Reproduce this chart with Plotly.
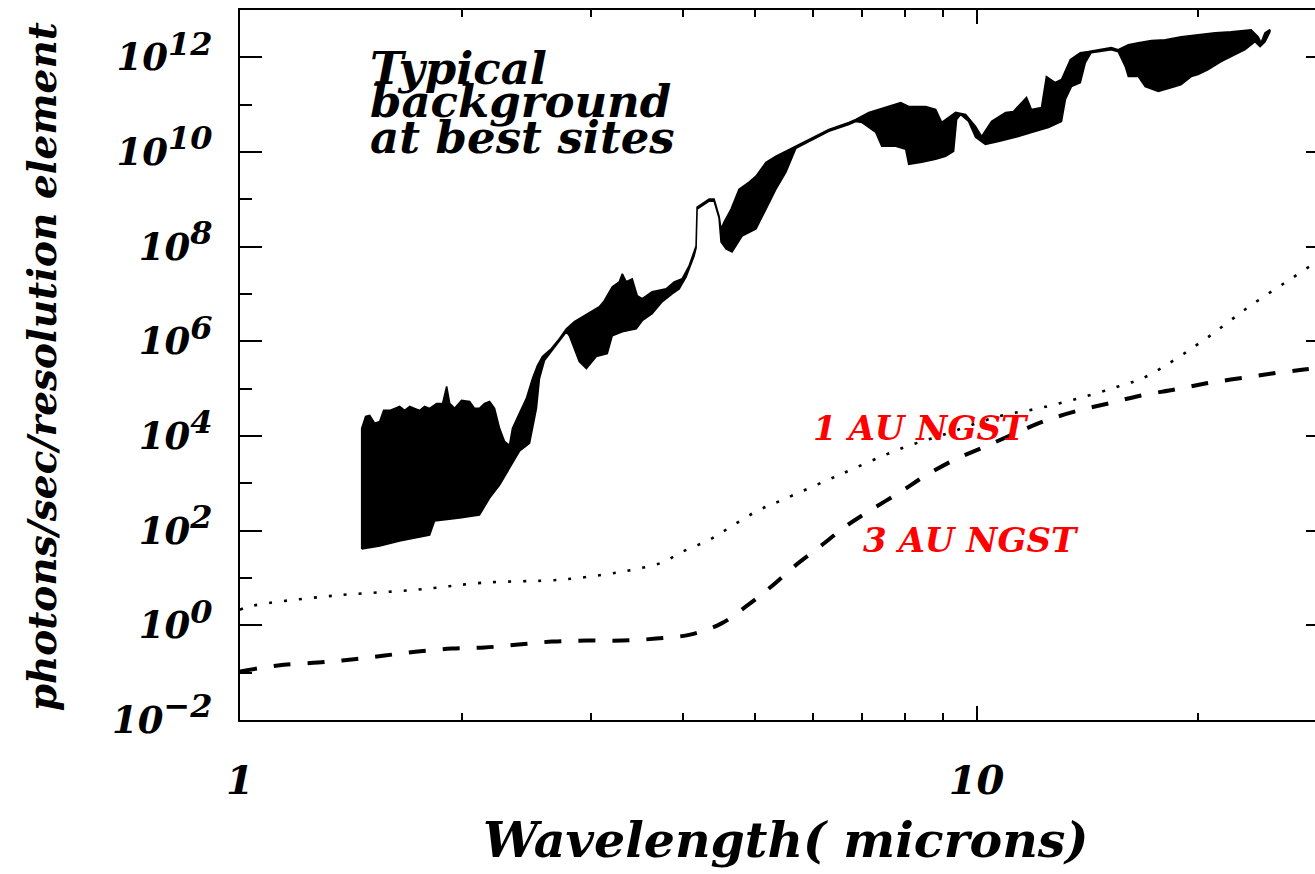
import numpy as np
import plotly.graph_objects as go

# ---------------- data ----------------
# Typical ground-based background: upper envelope of the spectrum
bg_upper_wl = [1.463, 1.463, 1.481, 1.500, 1.524, 1.548, 1.567, 1.597, 1.622, 1.647, 1.673, 1.700,
               1.726, 1.754, 1.781, 1.809, 1.849, 1.884, 1.908, 1.926, 1.956, 1.999, 2.050, 2.082,
               2.114, 2.148, 2.182, 2.216, 2.251, 2.286, 2.322, 2.344, 2.395, 2.448, 2.495, 2.534,
               2.574, 2.647, 2.714, 2.774, 2.844, 2.888, 3.008, 3.075, 3.123, 3.202, 3.273, 3.304,
               3.345, 3.408, 3.462, 3.516, 3.627, 3.789, 3.885, 3.983, 4.071, 4.161, 4.174, 4.266,
               4.334, 4.402, 4.471, 4.499, 4.541, 4.642, 4.759, 4.910, 5.018, 5.097, 5.177, 5.341,
               5.510, 5.685, 5.920, 6.302, 6.708, 6.855, 7.140, 7.600, 7.889, 8.089, 8.529, 8.799,
               8.967, 9.164, 9.366, 9.663, 9.969, 10.16, 10.48, 10.95, 11.22, 11.69, 11.87, 12.25,
               12.44, 12.79, 13.04, 13.41, 13.83, 14.19, 14.63, 15.24, 15.57, 16.07, 16.58, 17.27,
               18.04, 18.96, 19.99, 21.08, 22.16, 23.59, 24.11, 24.33, 24.64, 25.02]
bg_upper_log = [1.615, 4.162, 4.415, 4.436, 4.267, 4.309, 4.541, 4.541, 4.583, 4.625, 4.541, 4.625,
                4.583, 4.541, 4.625, 4.583, 4.688, 4.688, 5.046, 4.688, 4.583, 4.752, 4.731, 4.583,
                4.583, 4.688, 4.731, 4.583, 4.162, 3.888, 3.804, 4.162, 4.478, 4.794, 5.215, 5.488,
                5.678, 5.846, 6.057, 6.267, 6.415, 6.478, 6.646, 6.731, 6.857, 7.152, 7.257, 7.425,
                7.257, 7.320, 6.962, 6.899, 7.046, 7.109, 7.257, 7.320, 7.594, 8.015, 8.836, 8.941,
                9.004, 9.004, 8.646, 8.373, 8.520, 8.794, 9.215, 9.362, 9.488, 9.636, 9.783, 9.909,
                10.015, 10.120, 10.267, 10.478, 10.625, 10.688, 10.836, 10.962, 11.046, 10.962, 10.962, 10.899,
                10.625, 10.731, 10.836, 10.794, 10.541, 10.331, 10.646, 10.836, 10.857, 11.152, 10.899, 10.941,
                11.594, 11.467, 11.531, 11.952, 12.099, 12.120, 12.162, 12.204, 12.162, 12.267, 12.309, 12.352,
                12.373, 12.436, 12.478, 12.520, 12.541, 12.583, 12.436, 12.309, 12.520, 12.583]

# lower envelope of the spectrum
bg_lower_wl = [1.463, 1.548, 1.647, 1.809, 1.837, 1.987, 2.114, 2.182, 2.251, 2.322, 2.395, 2.472,
               2.526, 2.550, 2.590, 2.647, 2.714, 2.774, 2.800, 2.888, 2.953, 3.046, 3.152, 3.202,
               3.304, 3.451, 3.516, 3.627, 3.742, 3.861, 3.947, 4.033, 4.135, 4.161, 4.174, 4.334,
               4.402, 4.471, 4.499, 4.570, 4.656, 4.804, 5.018, 5.177, 5.341, 5.510, 5.685, 5.920,
               6.302, 6.708, 6.855, 6.985, 7.297, 7.435, 7.766, 8.013, 8.089, 8.424, 8.799, 9.079,
               9.307, 9.395, 9.513, 9.754, 9.969, 10.28, 10.71, 11.29, 11.87, 12.52, 13.04, 13.20,
               13.45, 13.83, 14.05, 14.31, 14.63, 15.24, 15.57, 15.92, 16.07, 16.58, 16.94, 17.65,
               18.04, 18.61, 18.96, 19.56, 19.99, 20.63, 21.48, 22.16, 23.15, 23.88, 24.26, 24.64, 25.02]
bg_lower_log = [1.615, 1.678, 1.783, 1.909, 2.204, 2.267, 2.331, 2.688, 2.962, 3.320, 3.678, 3.846,
                4.583, 5.215, 5.594, 5.804, 6.015, 6.204, 6.120, 5.573, 5.425, 5.678, 5.741, 6.120,
                6.204, 6.267, 6.436, 6.583, 6.836, 7.004, 7.109, 7.362, 7.804, 7.973, 8.794, 8.962,
                8.962, 8.604, 8.099, 7.952, 7.888, 8.225, 8.373, 8.794, 9.215, 9.573, 10.078, 10.225,
                10.436, 10.583, 10.646, 10.625, 10.415, 10.120, 10.120, 10.057, 9.741, 9.783, 9.846, 9.909,
                10.015, 10.688, 10.794, 10.646, 10.310, 10.162, 10.225, 10.310, 10.415, 10.520, 10.646, 11.109,
                11.383, 11.467, 11.888, 12.099, 12.120, 12.162, 12.120, 11.804, 11.594, 11.594, 11.383, 11.278,
                11.320, 11.383, 11.425, 11.594, 11.636, 11.741, 11.909, 12.015, 12.162, 12.331, 12.225, 12.331, 12.541]

# 1 AU NGST background (dotted)
ngst1_wl = [1.0, 1.041, 1.337, 1.738, 2.135, 2.714, 3.104, 3.408, 3.731, 4.009, 4.334, 4.656,
            5.034, 5.442, 6.501, 7.914, 8.967, 10.71, 12.13, 13.75, 15.57, 17.00, 20.30, 21.82,
            23.22, 24.87, 26.72, 28.44, 30.0]
ngst1_log = [0.331, 0.415, 0.625, 0.752, 0.899, 0.962, 1.067, 1.173, 1.320, 1.573, 1.804, 2.099,
             2.415, 2.646, 3.173, 3.741, 4.015, 4.415, 4.583, 4.794, 5.046, 5.257, 6.015, 6.373,
             6.688, 7.004, 7.320, 7.594, 7.73]

# 3 AU NGST background (dashed)
ngst3_wl = [1.0, 1.126, 1.276, 1.418, 1.572, 1.743, 1.938, 2.148, 2.388, 2.655, 2.962, 3.304,
            3.673, 4.084, 4.499, 4.879, 5.259, 5.668, 6.146, 6.625, 7.185, 7.914, 8.502, 9.307,
            10.22, 11.29, 12.33, 13.62, 15.10, 16.73, 18.61, 20.43, 22.65, 25.18, 27.82, 30.0]
ngst3_log = [-0.975, -0.848, -0.785, -0.722, -0.638, -0.554, -0.491, -0.469, -0.406, -0.343, -0.322, -0.322,
             -0.280, -0.196, 0.036, 0.415, 0.815, 1.257, 1.678, 2.078, 2.436, 2.836, 3.152, 3.488,
             3.762, 4.057, 4.309, 4.520, 4.688, 4.857, 4.983, 5.109, 5.215, 5.320, 5.404, 5.46]

x_tick_vals = [1, 10]
x_tick_text = ["1", "10"]
x_minor_vals = [2, 3, 4, 5, 6, 7, 8, 9, 20, 30]
y_tick_exps = [-2, 0, 2, 4, 6, 8, 10, 12]
y_tick_sup = ["\u22122", "0", "2", "4", "6", "8", "10", "12"]
y_minor_exps = [-1, 1, 3, 5, 7, 9, 11, 13]

# ---------------- figure ----------------
FONT = "DejaVu Serif"

fig = go.Figure()

poly_x = list(bg_upper_wl) + list(bg_lower_wl[::-1])
poly_y = list(10 ** np.array(bg_upper_log)) + list(10 ** np.array(bg_lower_log[::-1]))
fig.add_trace(go.Scatter(x=poly_x, y=poly_y, mode="lines", fill="toself",
                         fillcolor="black", line=dict(color="black", width=1.6),
                         hoverinfo="skip", showlegend=False))

fig.add_trace(go.Scatter(x=ngst1_wl, y=10 ** np.array(ngst1_log), mode="lines",
                         line=dict(color="black", width=2.6, dash="3px,12px", shape="spline"),
                         showlegend=False))
fig.add_trace(go.Scatter(x=ngst3_wl, y=10 ** np.array(ngst3_log), mode="lines",
                         line=dict(color="black", width=4, dash="17px,17px", shape="spline"),
                         showlegend=False))

L, R, T, B = 240, 0, 10, 154
W, H = 1330, 874          # right axis lies just beyond the visible 1315 px, as in the reference
pw, ph = W - L - R, H - T - B


def px(xp):
    return (xp - L) / pw


def py(yp):
    return (H - B - yp) / ph


y_tick_text = ["10<sup><span style='font-size:32px'>%s</span></sup>" % s for s in y_tick_sup]

fig.update_layout(
    width=W, height=H,
    margin=dict(l=L, r=R, t=T, b=B, pad=0),
    paper_bgcolor="white", plot_bgcolor="white",
    showlegend=False,
    xaxis=dict(type="log", range=[0, np.log10(30)],
               showline=True, linecolor="black", linewidth=2, mirror="allticks",
               ticks="inside", ticklen=14, tickwidth=2, tickcolor="black",
               tickvals=x_tick_vals, ticktext=x_tick_text,
               minor=dict(tickvals=x_minor_vals, ticks="inside", ticklen=7,
                          tickwidth=2, tickcolor="black", showgrid=False),
               showgrid=False, zeroline=False, ticklabelstandoff=24,
               tickfont=dict(family=FONT, size=40, color="black", weight="bold", style="italic")),
    yaxis=dict(type="log", range=[-2, 13],
               showline=True, linecolor="black", linewidth=2, mirror="allticks",
               ticks="inside", ticklen=22, tickwidth=2, tickcolor="black",
               tickvals=[10.0 ** e for e in y_tick_exps], ticktext=y_tick_text,
               minor=dict(tickvals=[10.0 ** e for e in y_minor_exps], ticks="inside",
                          ticklen=12, tickwidth=2, tickcolor="black", showgrid=False),
               showgrid=False, zeroline=False, ticklabelstandoff=18,
               tickfont=dict(family=FONT, size=37, color="black", weight="bold", style="italic")),
)

annotations = [
    dict(text="Wavelength( microns)", x=px(787), y=py(840), size=49, angle=0, color="black"),
    dict(text="photons/sec/resolution element", x=px(42), y=py(367), size=39, angle=-90, color="black"),
    dict(text="1 AU NGST", x=px(922), y=py(428), size=34, angle=0, color="red"),
    dict(text="3 AU NGST", x=px(972), y=py(540), size=34, angle=0, color="red"),
]
for a in annotations:
    fig.add_annotation(text=a["text"], xref="paper", yref="paper", x=a["x"], y=a["y"],
                       xanchor="center", yanchor="middle", showarrow=False, textangle=a["angle"],
                       font=dict(family=FONT, size=a["size"], color=a["color"],
                                 weight="bold", style="italic"))

for txt, yc in [("Typical", 68), ("background", 101), ("at best sites", 137)]:
    fig.add_annotation(text=txt, xref="paper", yref="paper", x=px(368), y=py(yc),
                       xanchor="left", yanchor="middle", showarrow=False,
                       font=dict(family=FONT, size=45, color="black", weight="bold", style="italic"))

fig.write_html("out.html",
               config={"displayModeBar": False},
               post_script="document.body.style.margin='0px';"
                           "document.body.style.overflow='hidden';")
